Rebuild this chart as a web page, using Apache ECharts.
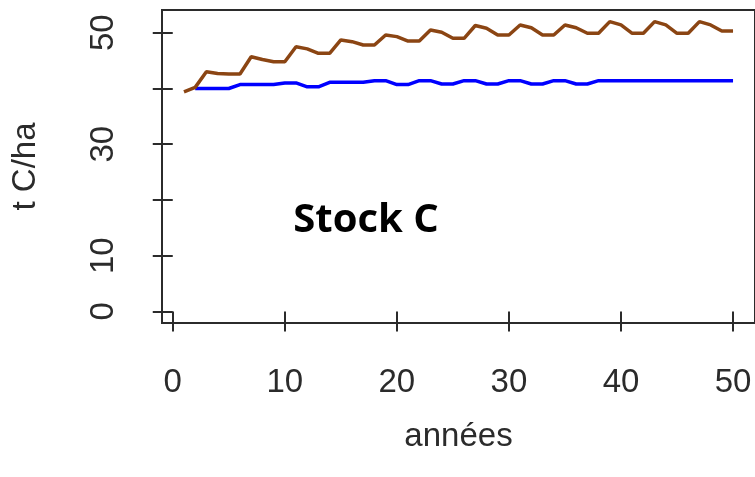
<!DOCTYPE html>
<html>
<head>
<meta charset="utf-8">
<script src="https://cdn.jsdelivr.net/npm/echarts@6/dist/echarts.min.js"></script>
<style>html,body{margin:0;padding:0;background:#fff}#c{width:755px;height:477px}</style>
</head>
<body>
<div id="c"></div>
<script>
const years = [1,2,3,4,5,6,7,8,9,10,11,12,13,14,15,16,17,18,19,20,21,22,23,24,25,26,27,28,29,30,31,32,33,34,35,36,37,38,39,40,41,42,43,44,45,46,47,48,49,50];
const brownValues = [39.4,40.2,43.0,42.7,42.6,42.6,45.7,45.2,44.8,44.8,47.5,47.1,46.3,46.3,48.7,48.4,47.8,47.8,49.6,49.3,48.5,48.5,50.5,50.1,49.0,49.0,51.3,50.8,49.6,49.6,51.4,50.9,49.6,49.6,51.4,50.9,49.9,49.9,52.0,51.4,49.9,49.9,52.0,51.4,49.9,49.9,52.0,51.4,50.3,50.3];
const blueValues = [null,40.0,40.0,40.0,40.0,40.7,40.7,40.7,40.7,41.0,41.0,40.3,40.3,41.1,41.1,41.1,41.1,41.4,41.4,40.7,40.7,41.4,41.4,40.8,40.8,41.4,41.4,40.8,40.8,41.4,41.4,40.8,40.8,41.4,41.4,40.8,40.8,41.4,41.4,41.4,41.4,41.4,41.4,41.4,41.4,41.4,41.4,41.4,41.4,41.4];
const xTicks = [0,10,20,30,40,50];
const yTicks = [0,10,20,30,40,50];
const yLabels = [0,10,30,50];
const xTitle = 'années';
const yTitle = 't C/ha';
const annotation = 'Stock C';

const pair = (vals) => years.map((y,i)=>[y, vals[i]]).filter(p=>p[1]!==null);
const narrow = "'Liberation Sans Narrow','Liberation Sans',Arial,sans-serif";
const ink = '#2b2b2b';

const chart = echarts.init(document.getElementById('c'), null, {renderer:'canvas'});
chart.setOption({
  animation:false,
  grid:{left:162, top:10, width:596, height:313, show:true, borderColor:ink, borderWidth:2, backgroundColor:'transparent', containLabel:false},
  xAxis:{
    type:'value', min:-0.96, max:51.96,
    axisLine:{show:false},
    splitLine:{show:false},
    axisTick:{show:true, inside:false, length:20, customValues:xTicks, lineStyle:{color:ink, width:2}},
    axisLabel:{show:true, customValues:xTicks, margin:43, fontFamily:narrow, fontSize:33, color:ink},
    name:xTitle, nameLocation:'middle', nameGap:97,
    nameTextStyle:{fontFamily:narrow, fontSize:33, color:ink}
  },
  yAxis:{
    type:'value', min:-2.08, max:54.08,
    axisLine:{show:false},
    splitLine:{show:false},
    axisTick:{show:true, inside:false, length:20, customValues:yTicks, lineStyle:{color:ink, width:2}},
    axisLabel:{show:true, customValues:yLabels, rotate:90, margin:42, fontFamily:narrow, fontSize:33, color:ink},
    name:yTitle, nameLocation:'middle', nameGap:120, nameRotate:90,
    nameTextStyle:{fontFamily:narrow, fontSize:33, color:ink}
  },
  graphic:[{type:'text', x:366, y:221, style:{text:annotation, x:0, y:0, align:'center', verticalAlign:'middle', font:"bold 40px 'Open Sans', sans-serif", fill:'#000'}}],
  series:[
    {type:'line', data:pair(blueValues), symbol:'none', lineStyle:{color:'#0000ff', width:3.5}, z:2},
    {type:'line', data:pair(brownValues), symbol:'none', lineStyle:{color:'#8b4513', width:3.5}, z:3}
  ]
});
</script>
</body>
</html>
